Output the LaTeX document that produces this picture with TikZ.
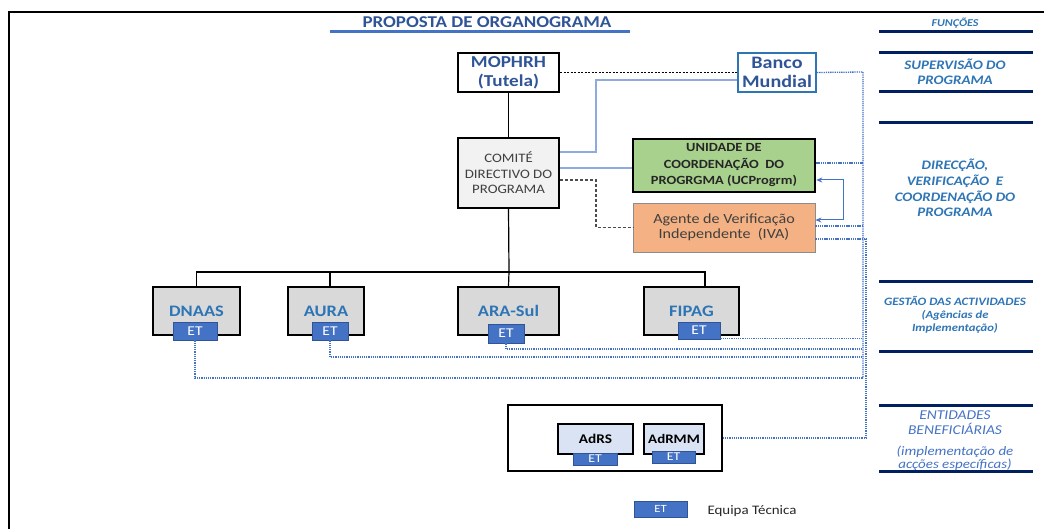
\documentclass[tikz,border=0pt]{standalone}
\usepackage{fontspec}
\setmainfont{Carlito}[FakeStretch=1.15]
\usetikzlibrary{arrows.meta}
\definecolor{ttl}{HTML}{2F5597}
\definecolor{ttlline}{HTML}{4472C4}
\definecolor{navyc}{HTML}{002060}
\definecolor{fnblue}{HTML}{2E75B6}
\definecolor{orgblue}{HTML}{2E75B6}
\definecolor{etblue}{HTML}{4472C4}
\definecolor{etedge}{HTML}{2F5597}
\definecolor{dotblue}{HTML}{4472C4}
\definecolor{lblue}{HTML}{8FAADC}
\definecolor{bancoedge}{HTML}{2E75B6}
\definecolor{ucpfill}{HTML}{A9D18E}
\definecolor{ivafill}{HTML}{F4B183}
\definecolor{comfill}{HTML}{F2F2F2}
\definecolor{orgfill}{HTML}{D9D9D9}
\definecolor{benfill}{HTML}{DAE3F3}
\definecolor{darktext}{HTML}{404040}
\begin{document}
\begin{tikzpicture}[x=1pt,y=-1pt,
  box/.style={draw=black,line width=2pt,inner sep=0pt,align=center},
  etbox/.style={draw=etedge,line width=0.6pt,fill=etblue,text=white,inner sep=0pt,font=\fontsize{13.5}{13.5}\selectfont},
  orgbox/.style={box,fill=orgfill,text=orgblue,minimum height=48pt,font=\bfseries\fontsize{16}{19}\selectfont},
  hier/.style={line width=1.2pt,black},
  dot/.style={draw=dotblue,line width=1.3pt,dash pattern=on 1.3pt off 0.9pt},
  navy/.style={line width=3pt,navyc},
  fn/.style={text=fnblue,align=center,font=\bfseries\itshape\fontsize{13}{15}\selectfont}
]
\useasboundingbox (0,0) rectangle (1044,529);

% frame
\draw[line width=1.2pt] (9,529) -- (9,12) -- (1044,12);

% title
\node[text=ttl,font=\bfseries\fontsize{16.5}{18}\selectfont] (title) at (487,22) {PROPOSTA DE ORGANOGRAMA};
\draw[ttlline,line width=3pt] (330,32) -- (630,32);

% right column
\foreach \yy in {32,53,92,123,282,351,405,471}
  \draw[navy] (879,\yy) -- (1033,\yy);
\node[fn,font=\bfseries\itshape\fontsize{10.5}{12}\selectfont] (f1) at (955,23) {FUNÇÕES};
\node[fn] (f2) at (955,72) {SUPERVISÃO DO\\PROGRAMA};
\node[fn,font=\bfseries\itshape\fontsize{13}{15.7}\selectfont] (f3) at (955,188) {DIRECÇÃO,\\VERIFICAÇÃO\ \ E\\COORDENAÇÃO DO\\PROGRAMA};
\node[fn,font=\bfseries\itshape\fontsize{11.3}{13}\selectfont] (f4) at (955,315) {GESTÃO DAS ACTIVIDADES\\{\fontsize{11}{13}\selectfont(Agências de}\\{\fontsize{11}{13}\selectfont Implementação)}};
\node[fn,font=\itshape\fontsize{13.5}{15}\selectfont,text=ttlline] (f5) at (955,423) {ENTIDADES\\BENEFICIÁRIAS};
\node[fn,font=\itshape\fontsize{13}{13}\selectfont,text=ttlline] (f6) at (955,458) {(implementação de\\acções específicas)};

% top nodes
\node[box,minimum width=101pt,minimum height=39pt,text=ttl,font=\bfseries\fontsize{16.7}{19}\selectfont] (mophrh) at (508.5,72.5) {MOPHRH\\(Tutela)};
\node[box,draw=bancoedge,minimum width=78pt,minimum height=39pt,text=ttl,font=\bfseries\fontsize{17.5}{19}\selectfont] (banco) at (777,72.5) {Banco\\Mundial};
\node[box,fill=comfill,minimum width=101pt,minimum height=70pt,text=darktext,font=\fontsize{12.9}{15.5}\selectfont] (comite) at (508.5,173) {COMITÉ\\DIRECTIVO DO\\PROGRAMA};
\node[box,line width=2.5pt,fill=ucpfill,minimum width=182pt,minimum height=53pt,text=black!85,font=\bfseries\fontsize{12.5}{16.5}\selectfont] (ucp) at (724,165.5) {UNIDADE DE\\COORDENAÇÃO\ \ DO\\PROGRGMA (UCProgrm)};
\node[box,draw=black!45,line width=0.8pt,fill=ivafill,minimum width=182pt,minimum height=49pt,text=darktext,font=\fontsize{14}{15.5}\selectfont] (iva) at (724,227.5) {Agente de Verificação\\Independente\ \ (IVA)};

% connectors top
\draw[dash pattern=on 2pt off 1.5pt,line width=1pt] (mophrh.east) -- (banco.west);
\draw[hier] (mophrh.south) -- (comite.north);
\coordinate (b1) at (596,80);
\coordinate (b2) at (596,152);
\draw[lblue,line width=1.2pt] ([yshift=-7.5pt]banco.west) -- (b1) -- (b2) -- (b2 -| comite.east);
\draw[lblue,line width=1.2pt] ([yshift=5pt]comite.east) -- ([yshift=5pt]comite.east -| ucp.west);
\coordinate (g1) at (596,180);
\coordinate (g2) at (596,227.5);
\draw[black!70,line width=1.2pt,dash pattern=on 3pt off 2pt] (g1 -| comite.east) -- (g1) -- (g2) -- (iva.west);
\coordinate (c1) at (843,180);
\coordinate (c2) at (843,220);
\draw[ttlline,line width=1pt,{Stealth[length=6pt,width=5pt]}-{Stealth[length=6pt,width=5pt]}] (c1 -| ucp.east) -- (c1) -- (c2) -- (c2 -| iva.east);

% hierarchy
\coordinate (bus) at (509,272);
\node[orgbox,minimum width=87pt] (dnaas) at (196.5,311) {DNAAS};
\node[orgbox,minimum width=76pt] (aura) at (326,311) {AURA};
\node[orgbox,minimum width=101pt] (arasul) at (508.5,311) {ARA-Sul};
\node[orgbox,minimum width=95pt] (fipag) at (691.5,311) {FIPAG};
\draw[hier] (comite.south) -- (bus);
\draw[hier] (dnaas.north) |- (bus) -| ([xshift=13.5pt]fipag.north);
\draw[hier] ([xshift=4pt]aura.north) -- ([xshift=4pt]aura.north |- bus);
\draw[hier] (arasul.north) -- (bus);

\node[etbox,minimum width=44pt,minimum height=18pt] (etdnaas) at (195,331) {ET};
\node[etbox,minimum width=36pt,minimum height=18pt] (etaura) at (330,331) {ET};
\node[etbox,minimum width=36pt,minimum height=19pt] (etarasul) at (506,333.5) {ET};
\node[etbox,minimum width=42pt,minimum height=17pt] (etfipag) at (699,330.5) {ET};

% beneficiaries
\node[box,minimum width=214pt,minimum height=66pt] (benef) at (615,438) {};
\node[box,fill=benfill,minimum width=75pt,minimum height=30pt,font=\bfseries\fontsize{13.3}{14}\selectfont] (adrs) at (595.5,439) {AdRS};
\node[box,fill=benfill,minimum width=60pt,minimum height=30pt,font=\bfseries\fontsize{13}{14}\selectfont] (adrmm) at (674,439) {AdRMM};
\node[etbox,minimum width=44pt,minimum height=12pt,font=\fontsize{12}{12}\selectfont] (etadrs) at (595,459) {ET};
\node[etbox,minimum width=43pt,minimum height=12pt,font=\fontsize{12}{12}\selectfont] (etadrmm) at (673.5,457) {ET};

% legend
\node[etbox,minimum width=53pt,minimum height=16pt,font=\fontsize{11}{11}\selectfont] (etleg) at (660.5,509) {ET};
\node[anchor=west,text=black!85,font=\fontsize{13}{14}\selectfont] (legtext) at (704,511) {Equipa Técnica};

% dotted function links
\coordinate (vtop) at (863,72);
\coordinate (jB) at (863,349);
\coordinate (jC) at (863,357);
\coordinate (jD) at (863,378);
\coordinate (v2a) at (866,239);
\coordinate (v2b) at (866,438);
\draw[dot] (banco.east) -- (vtop) -- (jD);
\draw[dot] ([yshift=2.5pt]ucp.east) -- ([yshift=2.5pt]ucp.east -| vtop);
\draw[dot] ([yshift=1.5pt]iva.east) -- ([yshift=1.5pt]iva.east -| vtop);
\draw[dot] ([yshift=-11.5pt]iva.east) -- (v2a) -- (v2b) -- (benef.east);
\draw[dot] ([yshift=1pt]etfipag.south east) -- ([yshift=1pt]etfipag.south east -| vtop);
\draw[dot] (etarasul.south) |- (jB);
\draw[dot] (etaura.south) |- (jC);
\draw[dot] (etdnaas.south) |- (jD);
\end{tikzpicture}
\end{document}
